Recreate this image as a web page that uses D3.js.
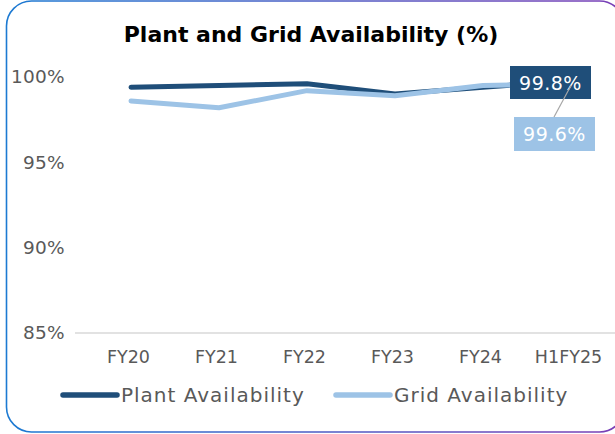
<!DOCTYPE html>
<html>
<head>
<meta charset="utf-8">
<script src="https://cdn.jsdelivr.net/npm/d3@7"></script>
<style>
  body { margin: 0; background: #fff; }
  svg { display: block; font-family: "DejaVu Sans", sans-serif; }
</style>
</head>
<body>
<svg id="chart"></svg>
<script>
const w = 615;
const h = 434;

const categories = ["FY20", "FY21", "FY22", "FY23", "FY24", "H1FY25"];
const plantValues = [99.4, 99.5, 99.6, 99.0, 99.4, 99.8];
const gridValues = [98.6, 98.2, 99.2, 98.9, 99.5, 99.6];
const yTicks = [85, 90, 95, 100];
const seriesNames = ["Plant Availability", "Grid Availability"];
const seriesColors = ["#1f4e79", "#9dc3e6"];

let svg = d3.select("#chart")
            .attr("width", w)
            .attr("height", h);

// frame with gradient border
let defs = svg.append("defs");
let grad = defs.append("linearGradient").attr("id", "frame").attr("x1", "0").attr("x2", "1");
grad.append("stop").attr("offset", "0").attr("stop-color", "#1c7ad2");
grad.append("stop").attr("offset", "1").attr("stop-color", "#7b3fb6");

svg.append("rect")
   .attr("x", 6.5).attr("y", 1)
   .attr("width", 618).attr("height", 431)
   .attr("rx", 25)
   .attr("fill", "none")
   .attr("stroke", "url(#frame)")
   .attr("stroke-width", 1.6);

// title
svg.append("text")
   .attr("x", 311).attr("y", 42)
   .attr("text-anchor", "middle")
   .attr("font-size", 22)
   .attr("font-weight", "bold")
   .attr("fill", "#000")
   .text("Plant and Grid Availability (%)");

let xScale = d3.scalePoint()
               .domain(categories)
               .range([131, 571]);

let yScale = d3.scaleLinear()
               .domain([85, 100])
               .range([333, 77]);

// y labels
let yAxis = d3.axisLeft(yScale)
              .tickValues(yTicks)
              .tickSize(0)
              .tickFormat(d => d + "%");

let gy = svg.append("g")
            .attr("transform", "translate(68, 0)")
            .call(yAxis);
gy.select(".domain").remove();
gy.selectAll("text")
  .attr("font-size", 18.5)
  .attr("letter-spacing", 0.3)
  .attr("fill", "#595959")
  .attr("font-family", "DejaVu Sans, sans-serif");

// baseline
svg.append("line")
   .attr("x1", 75).attr("x2", 615)
   .attr("y1", yScale(85)).attr("y2", yScale(85))
   .attr("stroke", "#d9d9d9")
   .attr("stroke-width", 1.5);

// x labels
let xAxis = d3.axisBottom(xScale).tickSize(0).tickPadding(0);
let gx = svg.append("g")
            .attr("transform", "translate(-3, 351)")
            .call(xAxis);
gx.select(".domain").remove();
gx.selectAll("text")
  .attr("font-size", 17.5)
  .attr("fill", "#595959")
  .attr("font-family", "DejaVu Sans, sans-serif");

// lines (grid drawn last, it sits on top where they meet)
let line = d3.line()
             .x((d, i) => xScale(categories[i]))
             .y(d => yScale(d));

[plantValues, gridValues].forEach((vals, k) => {
    svg.append("path")
       .datum(vals)
       .attr("d", line)
       .attr("fill", "none")
       .attr("stroke", seriesColors[k])
       .attr("stroke-width", 5)
       .attr("stroke-linecap", "round")
       .attr("stroke-linejoin", "round");
});

// data labels for last point
let last = categories.length - 1;
let lx = xScale(categories[last]);

svg.append("rect")
   .attr("x", 510).attr("y", 66).attr("width", 81).attr("height", 33)
   .attr("fill", seriesColors[0]);
svg.append("text")
   .attr("x", 550.5).attr("y", 90)
   .attr("text-anchor", "middle")
   .attr("font-size", 19)
   .attr("letter-spacing", 0.5)
   .attr("fill", "#fff")
   .text(plantValues[last].toFixed(1) + "%");

svg.append("rect")
   .attr("x", 514).attr("y", 117).attr("width", 81).attr("height", 34)
   .attr("fill", seriesColors[1]);
svg.append("text")
   .attr("x", 554.5).attr("y", 141)
   .attr("text-anchor", "middle")
   .attr("font-size", 19)
   .attr("letter-spacing", 0.5)
   .attr("fill", "#fff")
   .text(gridValues[last].toFixed(1) + "%");

// leader line
svg.append("line")
   .attr("x1", lx).attr("y1", yScale(plantValues[last]) + 5)
   .attr("x2", lx - 17).attr("y2", 117)
   .attr("stroke", "#a6a6a6")
   .attr("stroke-width", 1.2);

// legend
let legendX = [63, 336];
seriesNames.forEach((name, k) => {
    svg.append("line")
       .attr("x1", legendX[k]).attr("x2", legendX[k] + 54)
       .attr("y1", 395).attr("y2", 395)
       .attr("stroke", seriesColors[k])
       .attr("stroke-width", 5.5)
       .attr("stroke-linecap", "round");
    svg.append("text")
       .attr("x", legendX[k] + 58).attr("y", 402)
       .attr("font-size", 20)
       .attr("letter-spacing", 1)
       .attr("fill", "#595959")
       .text(name);
});
</script>
</body>
</html>
